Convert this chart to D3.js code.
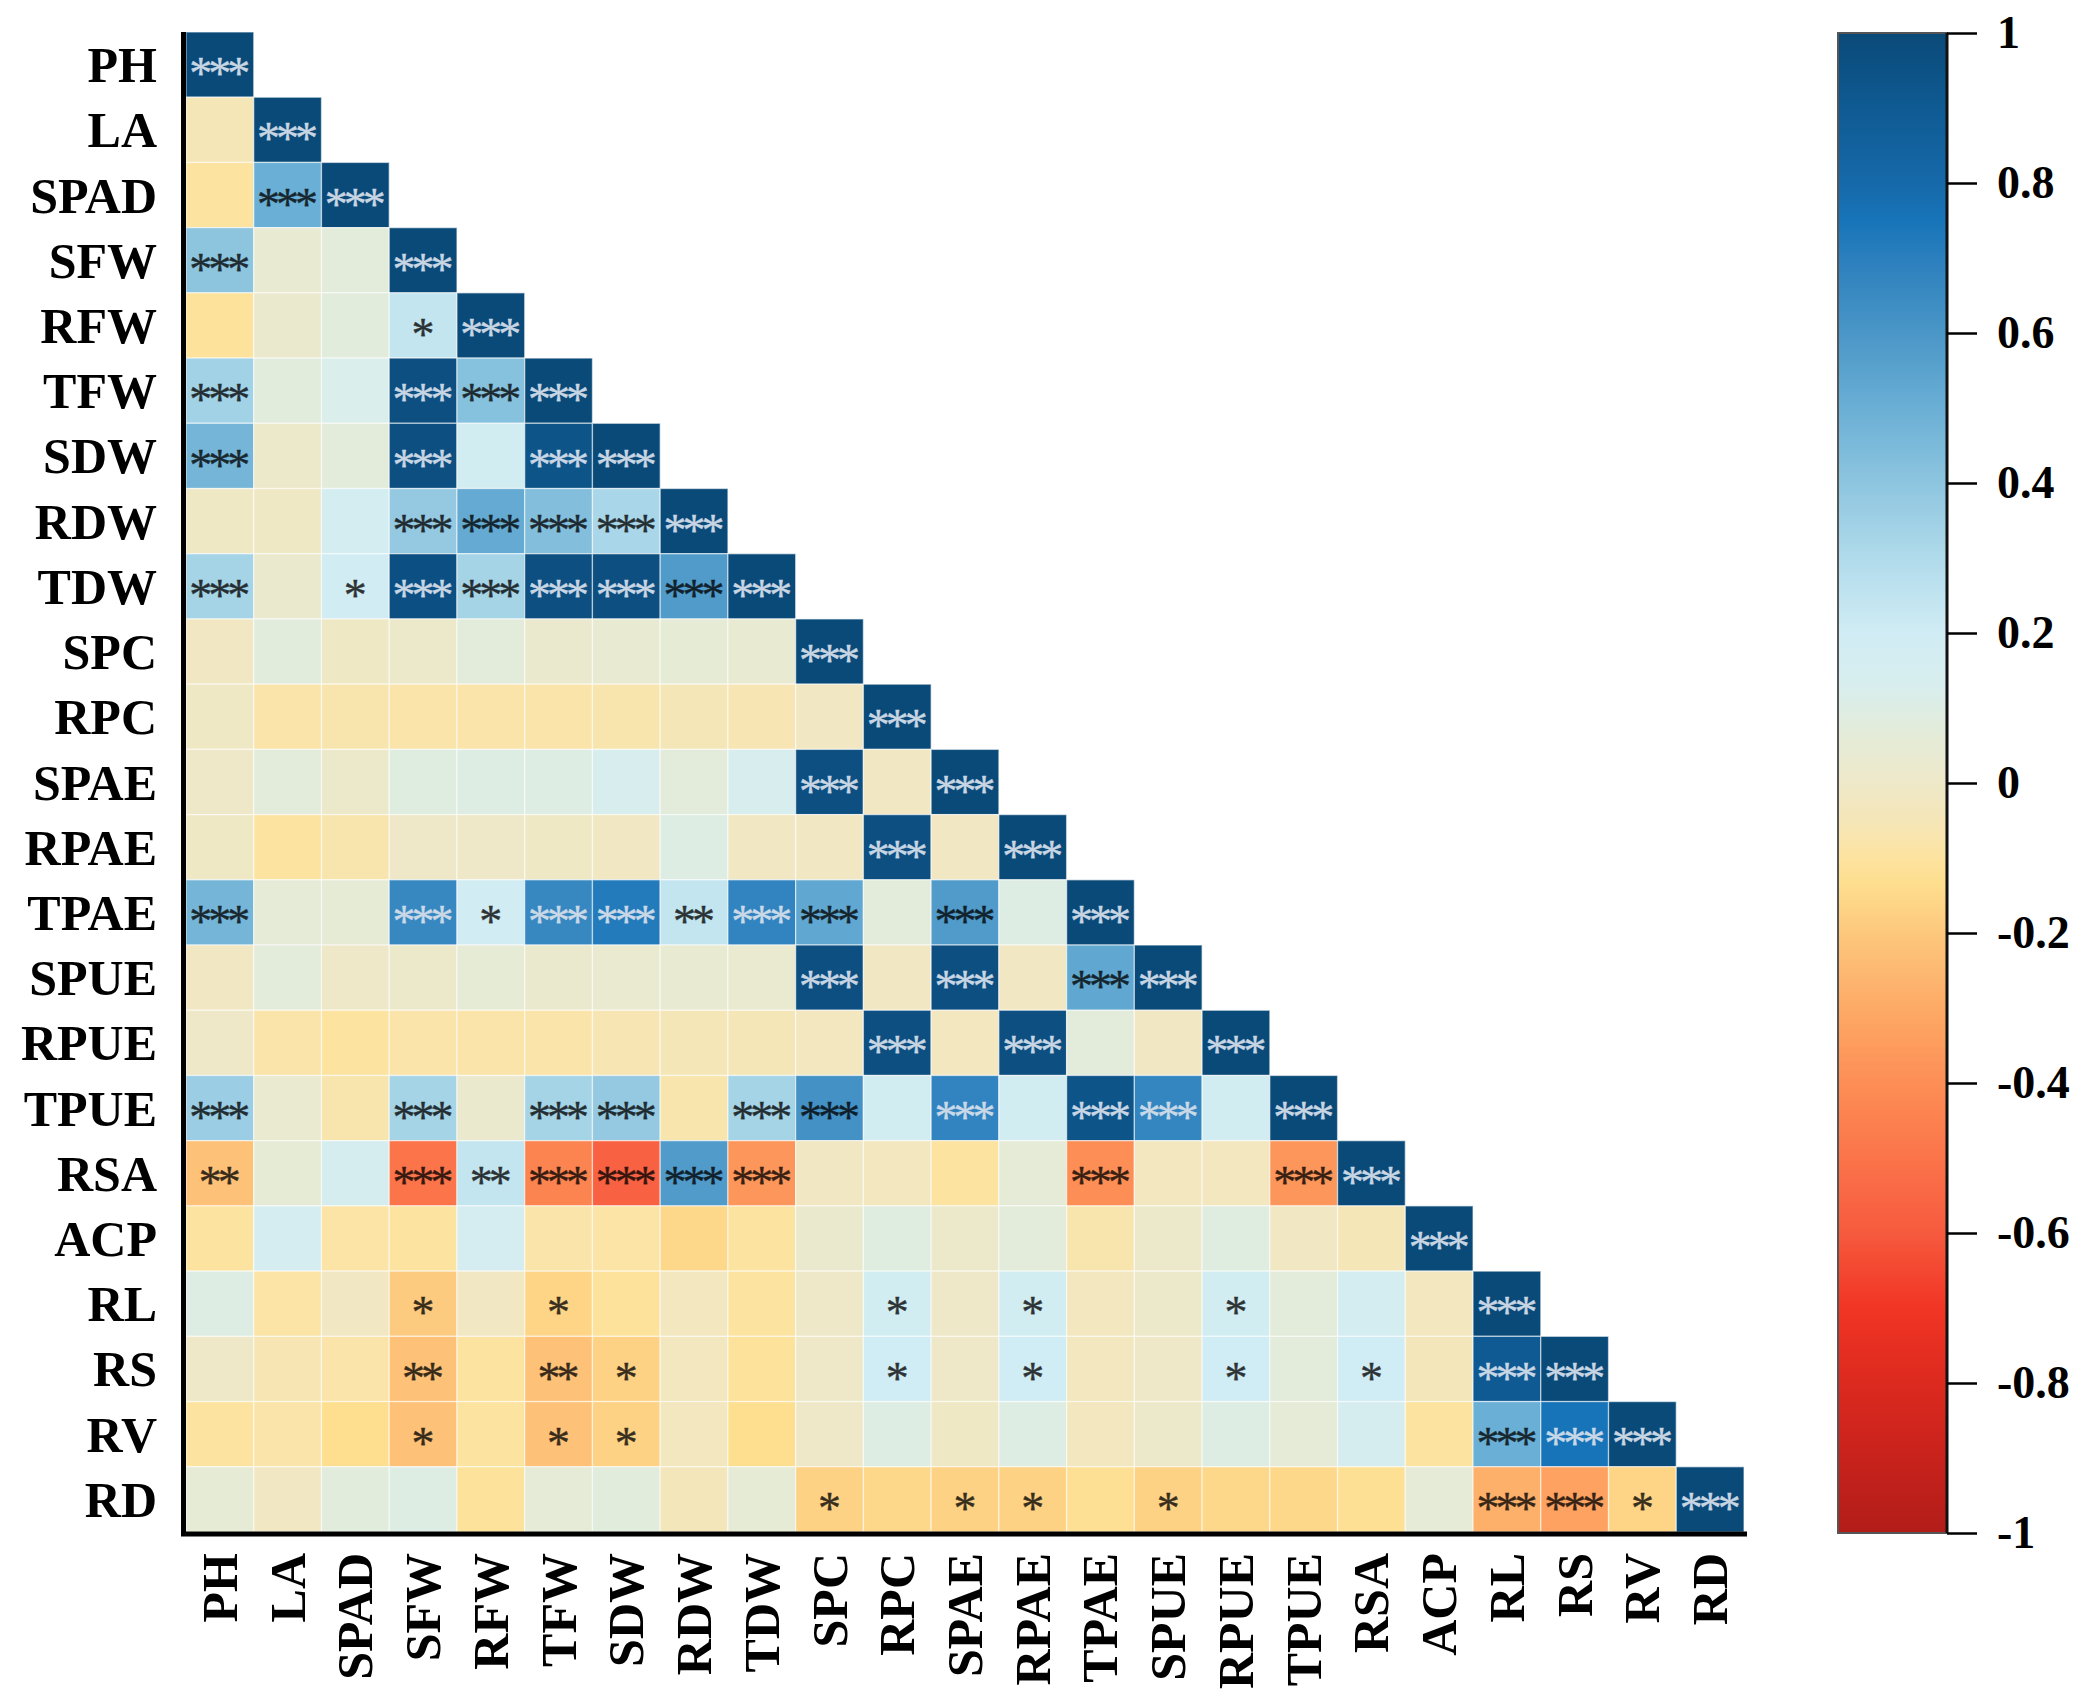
<!DOCTYPE html>
<html>
<head>
<meta charset="utf-8">
<script src="https://cdn.jsdelivr.net/npm/d3@7"></script>
<style>
  body { margin: 0; background: #fff; }
  text { font-family: "Liberation Serif", "Times New Roman", serif; font-weight: bold; }
</style>
</head>
<body>
<div id="chart"></div>
<script>
// variable names (rows top->bottom, columns left->right)
const vars = ["PH","LA","SPAD","SFW","RFW","TFW","SDW","RDW","TDW","SPC","RPC","SPAE",
  "RPAE","TPAE","SPUE","RPUE","TPUE","RSA","ACP","RL","RS","RV","RD"];

// lower triangle correlation, one array per row
const r_PH   = [1];
const r_LA   = [-0.05, 1];
const r_SPAD = [-0.1, 0.5, 1];
const r_SFW  = [0.4, 0.04, 0.07, 1];
const r_RFW  = [-0.11, 0.02, 0.08, 0.24, 1];
const r_TFW  = [0.34, 0.08, 0.12, 0.97, 0.42, 1];
const r_SDW  = [0.47, 0.01, 0.07, 0.97, 0.18, 0.94, 1];
const r_RDW  = [-0.01, -0.01, 0.17, 0.38, 0.52, 0.43, 0.32, 1];
const r_TDW  = [0.33, 0.02, 0.19, 0.96, 0.33, 0.97, 0.97, 0.58, 1];
const r_SPC  = [-0.02, 0.08, -0.01, 0.01, 0.07, 0.02, 0.04, 0.05, 0.04, 1];
const r_RPC  = [-0.01, -0.08, -0.07, -0.08, -0.08, -0.08, -0.07, -0.05, -0.06, -0.02, 1];
const r_SPAE = [0.0, 0.07, 0.01, 0.09, 0.1, 0.1, 0.13, 0.07, 0.13, 0.97, -0.02, 1];
const r_RPAE = [-0.01, -0.1, -0.07, 0.0, 0.0, -0.01, -0.02, 0.1, -0.02, -0.02, 0.97, -0.02, 1];
const r_TPAE = [0.47, 0.06, 0.05, 0.66, 0.19, 0.66, 0.72, 0.24, 0.68, 0.53, 0.07, 0.58, 0.1, 1];
const r_SPUE = [-0.02, 0.07, 0.0, 0.01, 0.05, 0.02, 0.03, 0.04, 0.03, 0.97, -0.02, 0.97, -0.02, 0.53, 1];
const r_RPUE = [0.0, -0.08, -0.1, -0.08, -0.08, -0.08, -0.06, -0.05, -0.05, -0.03, 0.97, -0.03, 0.97, 0.07, -0.02, 1];
const r_TPUE = [0.36, 0.03, -0.07, 0.33, 0.02, 0.33, 0.38, -0.07, 0.33, 0.62, 0.18, 0.68, 0.18, 0.94, 0.67, 0.18, 1];
const r_RSA  = [-0.22, 0.05, 0.15, -0.5, 0.24, -0.44, -0.57, 0.58, -0.37, -0.02, -0.03, -0.1, 0.06, -0.4, -0.03, -0.03, -0.37, 1];
const r_ACP  = [-0.1, 0.16, -0.09, -0.1, 0.16, -0.08, -0.09, -0.15, -0.1, 0.02, 0.09, 0.01, 0.07, -0.07, 0.01, 0.09, -0.02, -0.05, 1];
const r_RL   = [0.1, -0.09, -0.02, -0.19, -0.02, -0.16, -0.11, -0.03, -0.1, 0.0, 0.18, 0.0, 0.18, -0.03, 0.01, 0.18, 0.07, 0.17, -0.03, 1];
const r_RS   = [0.0, -0.06, -0.08, -0.22, -0.1, -0.22, -0.17, -0.03, -0.11, 0.0, 0.2, 0.0, 0.2, -0.03, 0.0, 0.2, 0.07, 0.2, -0.04, 0.9, 1];
const r_RV   = [-0.1, -0.08, -0.13, -0.22, -0.1, -0.22, -0.17, -0.03, -0.13, 0.0, 0.1, -0.01, 0.1, -0.03, 0.01, 0.1, 0.06, 0.15, -0.1, 0.5, 0.75, 1];
const r_RD   = [0.05, -0.02, 0.08, 0.1, -0.11, 0.06, 0.08, -0.04, 0.05, -0.17, -0.15, -0.17, -0.17, -0.12, -0.17, -0.15, -0.15, -0.12, 0.06, -0.28, -0.33, -0.16, 1];

// significance level per cell: 3 = ***, 2 = **, 1 = *, 0 = none
const s_PH   = [3];
const s_LA   = [0, 3];
const s_SPAD = [0, 3, 3];
const s_SFW  = [3, 0, 0, 3];
const s_RFW  = [0, 0, 0, 1, 3];
const s_TFW  = [3, 0, 0, 3, 3, 3];
const s_SDW  = [3, 0, 0, 3, 0, 3, 3];
const s_RDW  = [0, 0, 0, 3, 3, 3, 3, 3];
const s_TDW  = [3, 0, 1, 3, 3, 3, 3, 3, 3];
const s_SPC  = [0, 0, 0, 0, 0, 0, 0, 0, 0, 3];
const s_RPC  = [0, 0, 0, 0, 0, 0, 0, 0, 0, 0, 3];
const s_SPAE = [0, 0, 0, 0, 0, 0, 0, 0, 0, 3, 0, 3];
const s_RPAE = [0, 0, 0, 0, 0, 0, 0, 0, 0, 0, 3, 0, 3];
const s_TPAE = [3, 0, 0, 3, 1, 3, 3, 2, 3, 3, 0, 3, 0, 3];
const s_SPUE = [0, 0, 0, 0, 0, 0, 0, 0, 0, 3, 0, 3, 0, 3, 3];
const s_RPUE = [0, 0, 0, 0, 0, 0, 0, 0, 0, 0, 3, 0, 3, 0, 0, 3];
const s_TPUE = [3, 0, 0, 3, 0, 3, 3, 0, 3, 3, 0, 3, 0, 3, 3, 0, 3];
const s_RSA  = [2, 0, 0, 3, 2, 3, 3, 3, 3, 0, 0, 0, 0, 3, 0, 0, 3, 3];
const s_ACP  = [0, 0, 0, 0, 0, 0, 0, 0, 0, 0, 0, 0, 0, 0, 0, 0, 0, 0, 3];
const s_RL   = [0, 0, 0, 1, 0, 1, 0, 0, 0, 0, 1, 0, 1, 0, 0, 1, 0, 0, 0, 3];
const s_RS   = [0, 0, 0, 2, 0, 2, 1, 0, 0, 0, 1, 0, 1, 0, 0, 1, 0, 1, 0, 3, 3];
const s_RV   = [0, 0, 0, 1, 0, 1, 1, 0, 0, 0, 0, 0, 0, 0, 0, 0, 0, 0, 0, 3, 3, 3];
const s_RD   = [0, 0, 0, 0, 0, 0, 0, 0, 0, 1, 0, 1, 1, 0, 1, 0, 0, 0, 0, 3, 3, 1, 3];

const corrRows = [r_PH, r_LA, r_SPAD, r_SFW, r_RFW, r_TFW, r_SDW, r_RDW, r_TDW, r_SPC, r_RPC, r_SPAE,
  r_RPAE, r_TPAE, r_SPUE, r_RPUE, r_TPUE, r_RSA, r_ACP, r_RL, r_RS, r_RV, r_RD];
const sigRows = [s_PH, s_LA, s_SPAD, s_SFW, s_RFW, s_TFW, s_SDW, s_RDW, s_TDW, s_SPC, s_RPC, s_SPAE,
  s_RPAE, s_TPAE, s_SPUE, s_RPUE, s_TPUE, s_RSA, s_ACP, s_RL, s_RS, s_RV, s_RD];

// colour bar ticks
const legendTicks = [1, 0.8, 0.6, 0.4, 0.2, 0, -0.2, -0.4, -0.6, -0.8, -1];

// flatten to cells
const cells = [];
corrRows.forEach((row, i) => {
  row.forEach((v, j) => {
    cells.push({row: vars[i], col: vars[j], value: v, sig: sigRows[i][j]});
  });
});

// one entry per asterisk so they can be packed tight
const stars = [];
cells.filter(d => d.sig > 0).forEach(d => {
  for (let k = 0; k < d.sig; k++) {
    stars.push({cell: d, offset: k - (d.sig - 1) / 2});
  }
});

const W = 2097, H = 1701;
const svg = d3.select("#chart").append("svg")
  .attr("width", W)
  .attr("height", H);

// plot area
const plotLeft = 186, plotRight = 1744, plotTop = 32, plotBottom = 1532;

const x = d3.scaleBand().domain(vars).range([plotLeft, plotRight]);
const y = d3.scaleBand().domain(vars).range([plotTop, plotBottom]);

// diverging palette, red (-1) to navy (+1)
const colStops = [-1, -0.9, -0.8, -0.7, -0.6, -0.5, -0.4, -0.3, -0.2, -0.13, -0.1, -0.05,
  0, 0.07, 0.13, 0.2, 0.3, 0.4, 0.5, 0.6, 0.7, 0.75, 0.8, 0.9, 1];
const colValues = ["#b21d19", "#c8221c", "#dc2a1f", "#f13524", "#f65a3e", "#fb744a", "#fd8e55",
  "#fdaa66", "#fdc87c", "#fedf90", "#fde3a0", "#f5e6b8", "#eee8c8", "#e3ecda", "#d8eeee",
  "#d0ecf4", "#b0dbeb", "#8dc5df", "#6aafd5", "#4a96c7", "#2b7fbd", "#1774b8", "#1669a9",
  "#0f5a93", "#0a4a78"];
const color = d3.scaleLinear().domain(colStops).range(colValues).interpolate(d3.interpolateRgb);

// cells
const g = svg.append("g").attr("id", "cells");
g.selectAll("rect.cell")
  .data(cells)
  .enter()
  .append("rect")
  .attr("class", "cell")
  .attr("x", d => x(d.col))
  .attr("y", d => y(d.row))
  .attr("width", x.bandwidth())
  .attr("height", y.bandwidth())
  .attr("fill", d => color(d.value))
  .attr("stroke", "#ffffff")
  .attr("stroke-opacity", 0.55)
  .attr("stroke-width", 1.3);

// significance stars
const starSize = 46, starPitch = 19;
const starFill = d => d.cell.value > 0.62 ? "#d3deea" : "#000";
g.selectAll("text.star")
  .data(stars)
  .enter()
  .append("text")
  .attr("class", "star")
  .attr("x", d => x(d.cell.col) + x.bandwidth() / 2 + d.offset * starPitch)
  .attr("y", d => y(d.cell.row) + y.bandwidth() / 2 + starSize * 0.47 + 3)
  .attr("text-anchor", "middle")
  .style("font-weight", "normal")
  .attr("font-size", starSize)
  .attr("fill", starFill)
  .attr("stroke", starFill)
  .attr("stroke-width", 0.4)
  .attr("opacity", d => d.cell.value > 0.62 ? 0.95 : 0.78)
  .text("*");

// axis lines
svg.append("line")
  .attr("x1", plotLeft - 2.5).attr("x2", plotLeft - 2.5)
  .attr("y1", plotTop).attr("y2", plotBottom + 4)
  .attr("stroke", "#000").attr("stroke-width", 5);
svg.append("line")
  .attr("x1", plotLeft - 5).attr("x2", plotRight + 3)
  .attr("y1", plotBottom + 2).attr("y2", plotBottom + 2)
  .attr("stroke", "#000").attr("stroke-width", 5);

// row labels
svg.append("g").selectAll("text")
  .data(vars)
  .enter()
  .append("text")
  .attr("x", 157)
  .attr("y", d => y(d) + y.bandwidth() / 2)
  .attr("dy", "0.35em")
  .attr("text-anchor", "end")
  .attr("font-size", 50)
  .text(d => d);

// column labels (rotated)
svg.append("g").selectAll("text")
  .data(vars)
  .enter()
  .append("text")
  .attr("transform", d => `translate(${x(d) + x.bandwidth() / 2 + 17},${1553}) rotate(-90)`)
  .attr("text-anchor", "end")
  .attr("font-size", 50)
  .text(d => d);

// colour bar
const lg = svg.append("g").attr("id", "legend");
const barX = 1838, barW = 109;
const ly = d3.scaleLinear().domain([1, -1]).range([33, 1533]);

const grad = svg.append("defs").append("linearGradient")
  .attr("id", "corrGrad")
  .attr("x1", 0).attr("y1", 0).attr("x2", 0).attr("y2", 1);
colStops.slice().reverse().forEach(v => {
  grad.append("stop")
    .attr("offset", (1 - v) / 2)
    .attr("stop-color", color(v));
});

lg.append("rect")
  .attr("x", barX)
  .attr("y", ly(1))
  .attr("width", barW)
  .attr("height", ly(-1) - ly(1))
  .attr("fill", "url(#corrGrad)")
  .attr("stroke", "#555")
  .attr("stroke-width", 2);
// darker right edge of the bar
lg.append("line")
  .attr("x1", barX + barW).attr("x2", barX + barW)
  .attr("y1", ly(1)).attr("y2", ly(-1))
  .attr("stroke", "#111").attr("stroke-width", 3);

const legendAxis = d3.axisRight(ly)
  .tickValues(legendTicks)
  .tickSize(30)
  .tickPadding(20)
  .tickFormat(d => d === 0 ? "0" : (d < 0 ? "-" : "") + String(Math.abs(d)));

const ax = lg.append("g")
  .attr("transform", `translate(${barX + barW},0)`)
  .call(legendAxis);
ax.select(".domain").remove();
ax.selectAll(".tick line").attr("stroke", "#000").attr("stroke-width", 2.5);
ax.selectAll(".tick text")
  .attr("fill", "#000")
  .attr("font-size", 46)
  .style("font-family", "'Liberation Serif', 'Times New Roman', serif")
  .style("font-weight", "bold");
</script>
</body>
</html>
